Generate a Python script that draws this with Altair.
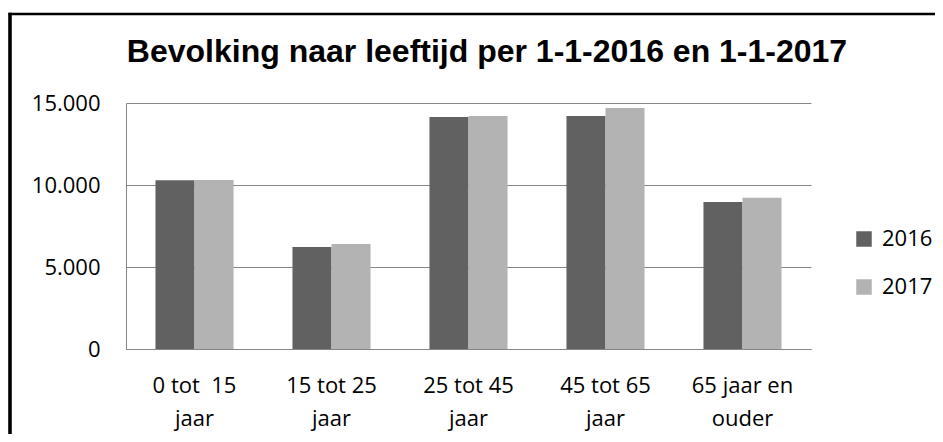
import altair as alt
import pandas as pd

categories = ["0 tot\u00a0 15\njaar", "15 tot 25\njaar", "25 tot 45\njaar", "45 tot 65\njaar", "65 jaar en\nouder"]
years = ["2016", "2017"]
values_2016 = [10290, 6220, 14150, 14200, 8960]
values_2017 = [10300, 6400, 14200, 14700, 9230]
y_ticks = [0, 5000, 10000, 15000]
colors = ["#616161", "#b3b3b3"]
title_text = "Bevolking naar leeftijd per 1-1-2016 en 1-1-2017"

rows = []
for c, a, b in zip(categories, values_2016, values_2017):
    rows.append({"cat": c, "jaar": "2016", "waarde": a})
    rows.append({"cat": c, "jaar": "2017", "waarde": b})
df = pd.DataFrame(rows)

bars = alt.Chart(df).mark_bar().encode(
    x=alt.X("cat:N", sort=categories, title=None,
            scale=alt.Scale(paddingInner=0.43, paddingOuter=0.215),
            axis=alt.Axis(labelAngle=0, labelExpr="split(datum.label, '\\n')",
                          labelFont="Open Sans", labelFontSize=22, labelColor="black",
                          labelLineHeight=33, labelPadding=26, ticks=False,
                          domainColor="#868686", domainWidth=1, labelBaseline="top")),
    xOffset=alt.XOffset("jaar:N", sort=years, scale=alt.Scale(paddingInner=0, paddingOuter=0)),
    y=alt.Y("waarde:Q", title=None,
            scale=alt.Scale(domain=[0, 15000], nice=False),
            axis=alt.Axis(values=y_ticks, ticks=False, labelPadding=26,
                          labelExpr="replace(format(datum.value, ','), ',', '.')",
                          labelFont="Open Sans", labelFontSize=22, labelColor="black",
                          gridColor="#868686", gridWidth=1,
                          domainColor="#868686", domainWidth=1)),
    color=alt.Color("jaar:N", sort=years, title=None,
                    scale=alt.Scale(domain=years, range=colors),
                    legend=alt.Legend(orient="none", legendX=727, legendY=125,
                                      symbolType="square", symbolSize=240,
                                      symbolStrokeWidth=0, labelFont="Open Sans",
                                      labelFontSize=22, labelColor="black",
                                      labelOffset=7, rowPadding=26, padding=0)),
)

title_mark = alt.Chart(pd.DataFrame({"t": [title_text]})).mark_text(
    font="Liberation Sans", fontSize=32, fontWeight="bold", color="black",
    align="center", baseline="alphabetic"
).encode(text="t:N", x=alt.value(361), y=alt.value(-41))

top_border = alt.Chart(pd.DataFrame({"a": [0]})).mark_rule(color="black", strokeWidth=2.7).encode(
    x=alt.value(-117.5), x2=alt.value(830), y=alt.value(-89)
)
left_border = alt.Chart(pd.DataFrame({"a": [0]})).mark_rule(color="black", strokeWidth=3.6).encode(
    x=alt.value(-116), y=alt.value(-90.3), y2=alt.value(340)
)

chart = alt.layer(bars, title_mark, top_border, left_border).properties(
    width=685, height=246,
    padding={"left": 118, "top": 95, "right": 124, "bottom": 85},
    autosize=alt.AutoSizeParams(type="none"),
    background="white",
).configure_view(stroke=None)

chart.save("out.html", embed_options={"renderer": "svg", "actions": False})
